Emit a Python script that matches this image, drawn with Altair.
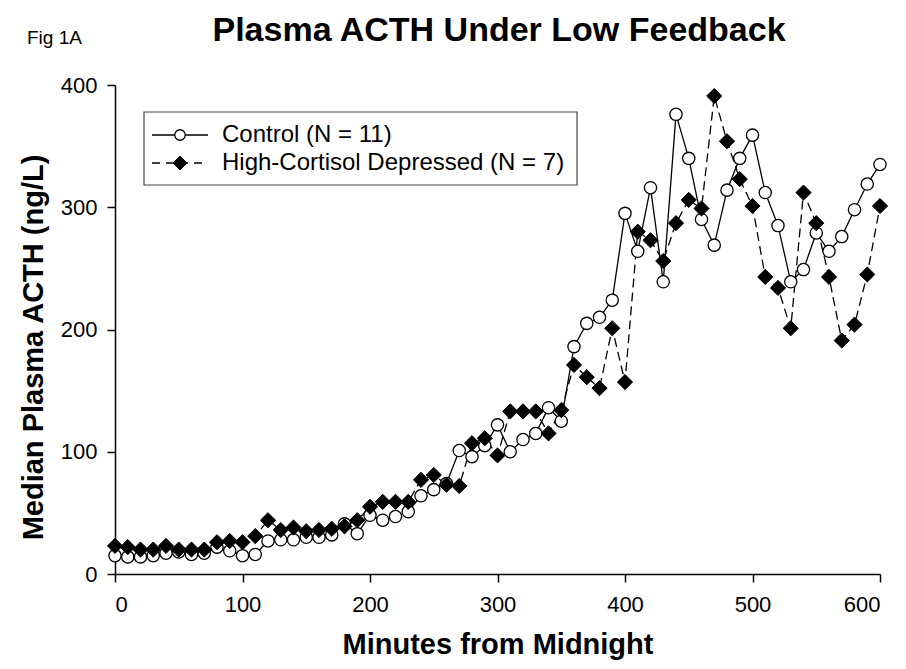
import altair as alt
import pandas as pd

minutes = list(range(0, 601, 10))
control = [15, 14, 14, 15, 17, 18, 16, 17, 22, 19,
           15, 16, 27, 28, 28, 30, 30, 32, 41, 33,
           48, 44, 47, 51, 64, 69, 74, 101, 96, 105,
           122, 100, 110, 115, 136, 125, 186, 205, 210, 224,
           295, 264, 316, 239, 376, 340, 290, 269, 314, 340,
           359, 312, 285, 239, 249, 279, 264, 276, 298, 319,
           335]
depressed = [23, 22, 20, 20, 23, 20, 20, 20, 26, 27,
             26, 31, 44, 36, 38, 35, 36, 37, 39, 44,
             55, 59, 59, 59, 77, 81, 73, 72, 107, 111,
             97, 133, 133, 133, 115, 134, 171, 161, 152, 201,
             157, 280, 273, 256, 287, 306, 299, 391, 354, 323,
             301, 243, 234, 201, 312, 287, 243, 191, 204, 245,
             301]
series_names = ["Control (N = 11)", "High-Cortisol Depressed (N = 7)"]
x_ticks = [0, 100, 200, 300, 400, 500, 600]
y_ticks = [0, 100, 200, 300, 400]
chart_title = "Plasma ACTH Under Low Feedback"
panel_label = "Fig 1A"

FONT = "Liberation Sans"

df_c = pd.DataFrame({"minute": minutes, "acth": control, "series": series_names[0]})
df_d = pd.DataFrame({"minute": minutes, "acth": depressed, "series": series_names[1]})

x_enc = alt.X("minute:Q",
              scale=alt.Scale(domain=[0, 600], nice=False, zero=False),
              axis=alt.Axis(values=x_ticks, title="Minutes from Midnight",
                            labelPadding=12, titlePadding=15))
y_enc = alt.Y("acth:Q",
              scale=alt.Scale(domain=[0, 400], nice=False),
              axis=alt.Axis(values=y_ticks, title="Median Plasma ACTH (ng/L)",
                            labelPadding=10, titlePadding=12, titleY=262))

base_c = alt.Chart(df_c).encode(x=x_enc, y=y_enc)
base_d = alt.Chart(df_d).encode(x=x_enc, y=y_enc)

line_c = base_c.mark_line(color="black", strokeWidth=1.3)
line_d = base_d.mark_line(color="black", strokeWidth=1.3, strokeDash=[9, 5])
pts_c = base_c.mark_point(shape="circle", size=150, filled=True, fill="white",
                          stroke="black", strokeWidth=1.3, opacity=1)
pts_d = base_d.mark_point(shape="diamond", size=230, filled=True, fill="black",
                          stroke="black", strokeWidth=1, opacity=1)

one = alt.Data(values=[{"k": 1}])

legend_box = alt.Chart(one).mark_rect(fill="white", stroke="#444", strokeWidth=1.2).encode(
    x=alt.value(29), x2=alt.value(462), y=alt.value(27), y2=alt.value(100))

leg_line_c = alt.Chart(one).mark_rule(color="black", strokeWidth=1.3).encode(
    x=alt.value(37), x2=alt.value(93), y=alt.value(50))
leg_pt_c = alt.Chart(one).mark_point(shape="circle", size=110, filled=True, fill="white",
                                     stroke="black", strokeWidth=1.3, opacity=1).encode(
    x=alt.value(65), y=alt.value(50))
leg_txt_c = alt.Chart(one).mark_text(align="left", baseline="middle", font=FONT,
                                     fontSize=24, color="black").encode(
    x=alt.value(107), y=alt.value(50), text=alt.value(series_names[0]))

leg_line_d = alt.Chart(one).mark_rule(color="black", strokeWidth=1.3, strokeDash=[8, 6]).encode(
    x=alt.value(37), x2=alt.value(93), y=alt.value(78))
leg_pt_d = alt.Chart(one).mark_point(shape="diamond", size=190, filled=True, fill="black",
                                     stroke="black", strokeWidth=1, opacity=1).encode(
    x=alt.value(65), y=alt.value(78))
leg_txt_d = alt.Chart(one).mark_text(align="left", baseline="middle", font=FONT,
                                     fontSize=24, color="black").encode(
    x=alt.value(107), y=alt.value(78), text=alt.value(series_names[1]))

title_mark = alt.Chart(one).mark_text(align="center", baseline="middle", font=FONT,
                                      fontSize=34, fontWeight="bold", color="black").encode(
    x=alt.value(384), y=alt.value(-54), text=alt.value(chart_title))

fig_label = alt.Chart(one).mark_text(align="left", baseline="middle", font=FONT,
                                     fontSize=19, color="black").encode(
    x=alt.value(-88), y=alt.value(-47), text=alt.value(panel_label))

chart = alt.layer(
    line_c, line_d, pts_c, pts_d,
    legend_box, leg_line_c, leg_pt_c, leg_txt_c, leg_line_d, leg_pt_d, leg_txt_d,
    title_mark, fig_label,
).properties(
    width=765, height=489,
    autosize=alt.AutoSizeParams(type="none"),
    padding={"left": 107, "top": 77, "right": 14, "bottom": 87},
).configure_view(stroke=None).configure_axis(
    grid=False, domainColor="black", domainWidth=1.5, tickColor="black", tickWidth=1.5,
    tickSize=8, labelFont=FONT, labelFontSize=22, labelColor="black",
    titleFont=FONT, titleFontSize=29, titleFontWeight="bold", titleColor="black",
)

chart.save("out.html", embed_options={"renderer": "svg", "actions": False})
